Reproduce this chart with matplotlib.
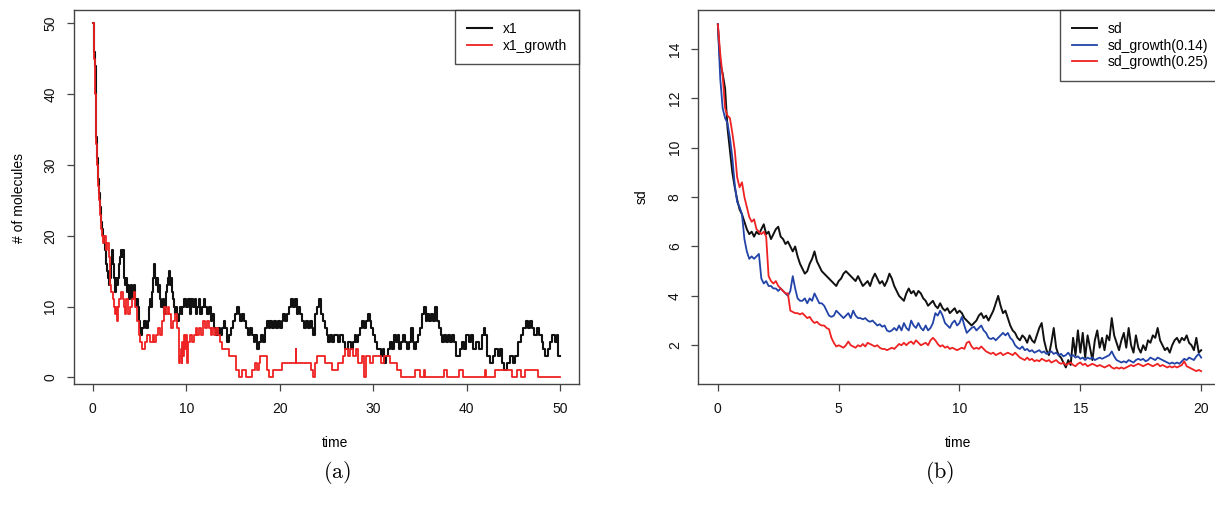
import numpy as np
import matplotlib
matplotlib.use("Agg")
import matplotlib.pyplot as plt

plt.rcParams['font.family'] = ['Liberation Sans', 'DejaVu Sans']
plt.rcParams['mathtext.fontset'] = 'cm'

# ---------------- Panel (a) data: step paths (change times, values) ----------------
x1_t = [0, 0.1, 0.2, 0.3, 0.4, 0.5, 0.6, 0.7, 0.8, 0.9, 1.0, 1.1, 1.2, 1.3, 1.4, 1.5, 1.6, 1.7, 1.8, 1.9,
        2.0, 2.1, 2.2, 2.3, 2.4, 2.5, 2.6, 2.7, 2.8, 2.9, 3.0, 3.1, 3.2, 3.3, 3.4, 3.5, 3.6, 3.7, 3.8, 3.9,
        4.0, 4.1, 4.2, 4.3, 4.4, 4.5, 4.6, 4.7, 4.8, 4.9, 5.0, 5.1, 5.2, 5.3, 5.5, 5.7, 5.9, 6.0, 6.1, 6.2,
        6.3, 6.4, 6.5, 6.6, 6.7, 6.8, 6.9, 7.0, 7.1, 7.2, 7.3, 7.5, 7.6, 7.7, 7.8, 7.9, 8.0, 8.2, 8.3, 8.4,
        8.5, 8.6, 8.7, 8.8, 8.9, 9.0, 9.2, 9.3, 9.5, 9.6, 9.8, 10.0, 10.2, 10.4, 10.5, 10.7, 10.9, 11.0, 11.2, 11.4,
        11.5, 11.7, 11.9, 12.0, 12.2, 12.4, 12.6, 12.8, 13.0, 13.2, 13.4, 13.6, 13.8, 14.0, 14.2, 14.4, 14.6, 14.8, 15.0, 15.2,
        15.4, 15.6, 15.8, 16.0, 16.2, 16.4, 16.6, 16.8, 17.0, 17.2, 17.4, 17.6, 17.8, 18.0, 18.2, 18.4, 18.6, 18.8, 19.0, 19.2,
        19.4, 19.6, 19.8, 20.0, 20.2, 20.4, 20.6, 20.8, 21.0, 21.2, 21.4, 21.6, 21.8, 22.0, 22.2, 22.4, 22.6, 22.8, 23.0, 23.2,
        23.4, 23.6, 23.8, 24.0, 24.2, 24.4, 24.6, 24.8, 25.0, 25.2, 25.4, 25.6, 25.8, 26.2, 26.4, 26.8, 27.0, 27.3, 27.6, 27.8,
        28.0, 28.2, 28.4, 28.6, 28.8, 29.0, 29.2, 29.4, 29.6, 29.8, 30.0, 30.2, 30.4, 30.8, 31.0, 31.2, 31.4, 31.6, 31.8, 32.0,
        32.2, 32.4, 32.6, 32.8, 33.0, 33.2, 33.4, 33.6, 33.8, 34.0, 34.2, 34.4, 34.6, 34.8, 35.0, 35.2, 35.4, 35.6, 35.8, 36.0,
        36.2, 36.4, 36.6, 36.8, 37.0, 37.2, 37.4, 37.6, 37.8, 38.0, 38.2, 38.4, 38.6, 38.9, 39.3, 39.5, 39.7, 39.9, 40.2, 40.5,
        40.7, 41.0, 41.3, 41.6, 41.8, 42.0, 42.2, 42.5, 42.8, 43.0, 43.3, 43.6, 43.8, 44.0, 44.3, 44.6, 44.9, 45.2, 45.5, 45.8,
        46.0, 46.3, 46.5, 46.8, 47.0, 47.2, 47.5, 47.7, 48.0, 48.2, 48.4, 48.7, 48.9, 49.1, 49.4, 49.6, 49.8, 50.0]
x1_v = [50, 46, 44, 38, 34, 31, 28, 26, 24, 22, 21, 20, 19, 18, 16, 15, 14, 13, 15, 14,
        16, 18, 16, 14, 12, 14, 13, 14, 16, 17, 18, 17, 18, 16, 14, 13, 14, 12, 13, 11,
        12, 13, 11, 12, 13, 11, 10, 11, 10, 9, 8, 7, 6, 7, 8, 7, 8, 10, 11, 10,
        12, 13, 14, 16, 14, 13, 14, 12, 13, 11, 10, 11, 9, 10, 12, 13, 14, 15, 13, 14,
        12, 11, 10, 9, 10, 8, 9, 10, 9, 10, 11, 10, 11, 9, 11, 10, 11, 9, 10, 11,
        9, 10, 11, 10, 9, 10, 8, 9, 7, 6, 7, 6, 7, 8, 7, 5, 6, 7, 8, 9,
        10, 9, 8, 9, 8, 7, 6, 7, 6, 5, 6, 4, 5, 6, 5, 7, 8, 7, 8, 7,
        8, 7, 8, 7, 8, 9, 8, 9, 10, 11, 10, 11, 9, 10, 9, 8, 7, 8, 7, 8,
        7, 6, 9, 10, 11, 9, 8, 7, 6, 5, 6, 5, 6, 5, 6, 5, 4, 5, 4, 5,
        6, 5, 6, 7, 8, 7, 8, 9, 8, 7, 6, 5, 4, 3, 4, 2, 3, 4, 5, 4,
        6, 5, 6, 4, 5, 6, 5, 4, 5, 7, 5, 4, 5, 6, 7, 9, 10, 8, 9, 8,
        9, 8, 10, 8, 7, 6, 5, 6, 5, 6, 5, 6, 5, 3, 4, 5, 4, 6, 5, 6,
        4, 5, 4, 6, 7, 6, 3, 2, 3, 4, 3, 4, 2, 1, 2, 3, 2, 3, 5, 6,
        7, 8, 7, 8, 7, 6, 7, 6, 5, 4, 3, 4, 5, 6, 5, 6, 3, 3]

x1g_t = [0, 0.1, 0.2, 0.3, 0.4, 0.5, 0.6, 0.7, 0.8, 0.9, 1.0, 1.1, 1.2, 1.4, 1.5, 1.7, 1.8, 1.9, 2.0, 2.2,
         2.3, 2.4, 2.5, 2.6, 2.7, 2.8, 3.0, 3.2, 3.3, 3.5, 3.6, 3.8, 4.0, 4.2, 4.4, 4.5, 4.7, 4.9, 5.0, 5.1,
         5.3, 5.6, 5.8, 6.1, 6.4, 6.6, 6.8, 7.0, 7.2, 7.4, 7.6, 7.8, 8.0, 8.2, 8.4, 8.6, 8.8, 9.0, 9.2, 9.3,
         9.4, 9.5, 9.6, 9.7, 9.8, 9.9, 10.0, 10.1, 10.2, 10.4, 10.6, 10.8, 11.0, 11.2, 11.4, 11.6, 11.8, 12.0, 12.2, 12.4,
         12.6, 12.8, 13.0, 13.2, 13.4, 13.6, 13.8, 14.6, 15.3, 15.6, 16.0, 16.4, 17.0, 17.4, 17.6, 17.8, 17.9, 18.6, 18.8, 19.3,
         20.2, 21.7, 21.75, 23.3, 23.6, 23.8, 24.0, 24.8, 25.6, 26.2, 26.8, 27.0, 27.3, 27.5, 27.8, 28.2, 28.4, 28.8, 29.0, 29.2,
         29.6, 30.0, 30.8, 31.2, 31.8, 32.5, 33.0, 34.5, 35.0, 35.4, 35.5, 37.6, 37.9, 39.2, 39.6, 42.0, 42.05, 43.0, 44.8, 45.4,
         45.8, 46.2, 47.6, 50.0]
x1g_v = [50, 45, 40, 36, 33, 30, 27, 25, 23, 21, 20, 19, 20, 18, 19, 17, 14, 13, 12, 11,
         10, 9, 10, 8, 10, 11, 12, 11, 10, 9, 11, 9, 10, 11, 12, 10, 8, 7, 6, 5,
         4, 5, 6, 5, 6, 5, 6, 7, 6, 8, 10, 9, 10, 9, 7, 8, 9, 7, 2, 3,
         4, 2, 5, 3, 6, 4, 6, 2, 5, 6, 5, 6, 7, 6, 7, 6, 8, 7, 8, 7,
         6, 7, 6, 7, 6, 5, 4, 3, 1, 0, 1, 0, 1, 2, 1, 2, 3, 1, 0, 1,
         2, 4, 2, 1, 0, 2, 3, 2, 1, 2, 3, 4, 3, 4, 3, 4, 2, 3, 0, 3,
         2, 3, 2, 3, 2, 1, 0, 1, 0, 1, 0, 1, 0, 1, 0, 1, 0, 1, 0, 1,
         0, 1, 0, 0]

# ---------------- Panel (b) data: sd curves sampled every 0.1 time units ----------------
sd_time = [round(0.1 * i, 1) for i in range(201)]
sd_vals = [15.0, 13.4, 13.0, 12.4, 10.8, 9.9, 9.0, 8.4, 7.9, 7.5,
           7.3, 7.0, 6.7, 6.5, 6.6, 6.4, 6.6, 6.5, 6.7, 6.9,
           6.5, 6.6, 6.3, 6.5, 6.7, 6.8, 6.4, 6.3, 6.1, 6.2,
           6.0, 5.8, 6.0, 5.6, 5.3, 5.1, 4.9, 5.0, 5.3, 5.5,
           5.8, 5.4, 5.2, 5.0, 4.9, 4.8, 4.7, 4.6, 4.5, 4.4,
           4.6, 4.7, 4.9, 5.0, 4.9, 4.8, 4.7, 4.6, 4.8, 4.6,
           4.4, 4.5, 4.6, 4.4, 4.7, 4.9, 4.7, 4.5, 4.6, 4.4,
           4.6, 4.9, 4.7, 4.4, 4.2, 4.0, 3.9, 3.8, 4.1, 4.3,
           4.1, 4.2, 4.0, 4.2, 4.1, 3.9, 3.8, 3.6, 3.7, 3.8,
           3.6, 3.5, 3.7, 3.5, 3.4, 3.5, 3.3, 3.4, 3.5, 3.3,
           3.4, 3.3, 3.1, 3.0, 2.9, 2.8, 2.9, 3.0, 3.2, 3.3,
           3.1, 3.2, 3.0, 3.2, 3.4, 3.7, 4.0, 3.6, 3.3, 3.4,
           3.1, 2.8, 2.6, 2.5, 2.3, 2.2, 2.4, 2.3, 2.1, 2.4,
           2.2, 2.1, 2.4, 2.7, 2.9, 2.2, 1.8, 1.6, 2.1, 2.7,
           1.9, 1.6, 1.5, 1.3, 1.1, 1.4, 1.2, 2.3, 1.6, 2.6,
           1.7, 2.5, 1.5, 2.4, 1.9, 1.4, 2.2, 2.6, 1.9, 2.3,
           1.8, 2.4, 2.2, 3.1, 2.4, 2.1, 1.8, 2.2, 2.5, 1.9,
           2.7, 2.0, 1.7, 2.4, 1.9, 1.7, 2.0, 1.8, 2.2, 2.1,
           2.4, 2.3, 2.7, 2.2, 2.0, 1.8, 1.9, 1.7, 2.0, 2.2,
           2.3, 2.1, 2.3, 2.2, 2.4, 2.1, 2.0, 1.8, 2.3, 1.7,
           1.8]
sd_g014 = [15.0, 12.8, 11.6, 11.2, 11.0, 10.4, 9.6, 8.5, 7.8, 7.6,
           7.3, 6.3, 5.8, 5.5, 5.6, 5.5, 5.6, 5.7, 4.7, 4.5,
           4.6, 4.4, 4.4, 4.3, 4.3, 4.2, 4.3, 4.2, 4.1, 4.0,
           4.2, 4.8, 4.3, 3.9, 3.8, 3.8, 3.9, 3.7, 3.9, 3.8,
           4.1, 3.9, 3.7, 3.7, 3.6, 3.4, 3.2, 3.15, 3.2, 3.4,
           3.3, 3.2, 3.1, 3.2, 3.3, 3.1, 3.4, 3.2, 3.1, 3.1,
           3.05, 3.1, 3.0, 2.95, 3.0, 2.9, 2.8, 2.85, 2.75, 2.8,
           2.6, 2.55, 2.6, 2.7, 2.6, 2.8, 2.6, 2.9, 2.7, 2.6,
           3.0, 2.8, 2.7, 2.9, 2.7, 2.6, 2.8, 2.6, 2.7, 2.9,
           3.3, 3.2, 3.4, 3.2, 2.9, 2.8, 2.7, 2.9, 3.0, 2.8,
           2.9, 3.15, 2.8, 2.5, 2.6, 2.7, 2.75, 2.6, 2.7, 2.8,
           2.6, 2.5, 2.3, 2.25, 2.3, 2.2, 2.3, 2.4, 2.5, 2.4,
           2.5, 2.3, 2.2, 2.0, 1.9, 1.85, 1.95, 1.8, 1.85, 1.75,
           1.8, 1.7, 1.75, 1.8, 1.7, 1.75, 1.65, 1.7, 1.75, 1.65,
           1.7, 1.6, 1.65, 1.55, 1.6, 1.7, 1.55, 1.6, 1.5, 1.55,
           1.45, 1.5, 1.4, 1.5, 1.45, 1.5, 1.4, 1.45, 1.5, 1.45,
           1.5, 1.55, 1.6, 1.75, 1.55, 1.4, 1.35, 1.3, 1.35, 1.3,
           1.4, 1.35, 1.3, 1.4, 1.45, 1.4, 1.45, 1.35, 1.4, 1.5,
           1.45, 1.4, 1.5, 1.45, 1.4, 1.35, 1.3, 1.25, 1.3, 1.25,
           1.3, 1.25, 1.35, 1.45, 1.4, 1.5, 1.45, 1.4, 1.55, 1.65,
           1.5]
sd_g025 = [15.0, 13.8, 12.9, 11.6, 11.3, 11.2, 10.6, 9.9, 8.8, 8.4,
           8.6, 8.0, 7.6, 7.2, 7.0, 7.1, 6.7, 6.6, 6.5, 6.6,
           6.4, 4.8, 4.6, 4.5, 4.6, 4.4, 4.3, 4.2, 4.1, 4.1,
           3.4, 3.35, 3.3, 3.3, 3.25, 3.3, 3.2, 3.1, 3.15, 3.0,
           2.9, 2.95, 2.85, 2.8, 2.8, 2.7, 2.65, 2.3, 2.1, 1.95,
           2.0, 1.95, 1.9, 2.0, 2.15, 2.0, 1.95, 1.9, 2.0, 1.95,
           2.05, 1.95, 2.1, 2.05, 2.0, 1.95, 2.0, 1.9, 1.85, 1.85,
           1.8, 1.85, 1.9, 1.85, 1.95, 2.05, 2.0, 2.1, 2.0, 2.1,
           2.15, 2.05, 2.2, 2.1, 2.0, 2.05, 2.1, 2.0, 2.2, 2.3,
           2.2, 2.05, 1.95, 2.0, 1.9, 1.95, 1.85, 1.9, 1.85, 1.8,
           1.85, 1.9, 1.85, 2.1, 2.15, 1.95, 1.85, 1.9, 1.85, 1.95,
           1.85, 1.75, 1.7, 1.65, 1.7, 1.6, 1.65, 1.7, 1.6, 1.65,
           1.7, 1.65, 1.6, 1.7, 1.6, 1.5, 1.45, 1.4, 1.5, 1.4,
           1.45, 1.35, 1.4, 1.35, 1.45, 1.4, 1.35, 1.4, 1.3, 1.35,
           1.4, 1.3, 1.25, 1.3, 1.2, 1.25, 1.3, 1.2, 1.15, 1.25,
           1.3, 1.2, 1.25, 1.15, 1.2, 1.25, 1.2, 1.15, 1.2, 1.15,
           1.1, 1.15, 1.2, 1.1, 1.05, 1.1, 1.05, 1.1, 1.05, 1.1,
           1.15, 1.2, 1.15, 1.2, 1.25, 1.2, 1.15, 1.2, 1.25, 1.2,
           1.15, 1.2, 1.25, 1.15, 1.2, 1.15, 1.1, 1.15, 1.1, 1.15,
           1.1, 1.15, 1.2, 1.35, 1.15, 1.1, 1.05, 1.0, 0.95, 1.0,
           0.95]

legend_a = ['x1', 'x1_growth']
legend_b = ['sd', 'sd_growth(0.14)', 'sd_growth(0.25)']
xticks_a = [0, 10, 20, 30, 40, 50]
yticks_a = [0, 10, 20, 30, 40, 50]
xticks_b = [0, 5, 10, 15, 20]
yticks_b = [2, 4, 6, 8, 10, 12, 14]

BLACK = '#111111'
RED = '#ee2222'
BLUE = '#2244a8'
W, H = 1215, 511

fig = plt.figure(figsize=(W / 100, H / 100), dpi=100)
ax1 = fig.add_axes([74 / W, (H - 384) / H, 505 / W, 374 / H])
ax2 = fig.add_axes([698.5 / W, (H - 384) / H, 522 / W, 374 / H])


def style(ax):
    for sp in ax.spines.values():
        sp.set_color('#444444')
        sp.set_linewidth(1.0)
    ax.tick_params(direction='out', length=5, width=0.9, color='#444444',
                   labelsize=10, labelcolor='#111111')
    ax.tick_params(axis='x', pad=8)
    ax.tick_params(axis='y', pad=7)
    for lab in ax.get_yticklabels():
        lab.set_rotation(90)
        lab.set_va('center')


def add_legend(ax):
    leg = ax.legend(loc='upper right', frameon=True, fancybox=False, edgecolor='#222222',
                    fontsize=10, borderaxespad=0, handlelength=1.8, handletextpad=0.8,
                    borderpad=0.85, labelspacing=0.2)
    leg.get_frame().set_linewidth(1.0)
    return leg


# Panel (a)
ax1.step(x1_t, x1_v, where='post', color=BLACK, lw=1.5, label=legend_a[0])
ax1.step(x1g_t, x1g_v, where='post', color=RED, lw=1.3, label=legend_a[1])
ax1.set_xlim(-2, 52)
ax1.set_ylim(-0.95, 51.9)
ax1.set_xticks(xticks_a)
ax1.set_yticks(yticks_a)
style(ax1)
ax1.set_xlabel('time', fontsize=10, va='center')
ax1.xaxis.set_label_coords((335 - 74) / 505, -(443 - 384) / 374)
ax1.set_ylabel('# of molecules', fontsize=10, va='center')
ax1.yaxis.set_label_coords(-(74 - 19) / 505, (384 - 198) / 374)
add_legend(ax1)

# Panel (b)
ax2.plot(sd_time, sd_vals, color=BLACK, lw=1.4, label=legend_b[0])
ax2.plot(sd_time, sd_g014, color=BLUE, lw=1.3, label=legend_b[1])
ax2.plot(sd_time, sd_g025, color=RED, lw=1.3, label=legend_b[2])
ax2.set_xlim(-0.8, 20.8)
ax2.set_ylim(0.43, 15.58)
ax2.set_xticks(xticks_b)
ax2.set_yticks(yticks_b)
style(ax2)
ax2.set_xlabel('time', fontsize=10, va='center')
ax2.xaxis.set_label_coords((958 - 698.5) / 522, -(443 - 384) / 374)
ax2.set_ylabel('sd', fontsize=10, va='center')
ax2.yaxis.set_label_coords(-(698.5 - 642) / 522, (384 - 197) / 374)
add_legend(ax2)

# Sub-captions
fig.text(337 / W, 1 - 472 / H, r'$\mathrm{(a)}$', fontsize=16, ha='center', va='center')
fig.text(940 / W, 1 - 472 / H, r'$\mathrm{(b)}$', fontsize=16, ha='center', va='center')

fig.savefig('out.png', dpi=100)
